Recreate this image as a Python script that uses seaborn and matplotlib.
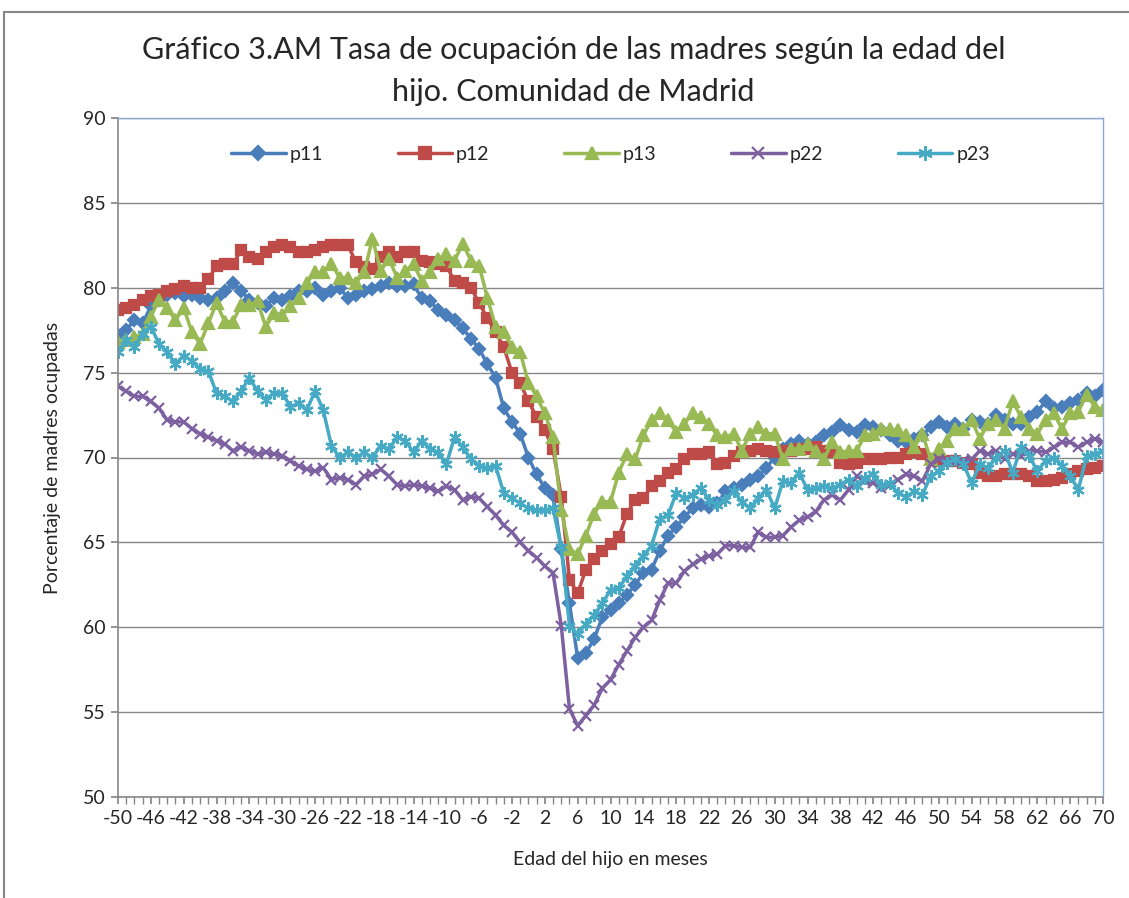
import matplotlib
matplotlib.use("Agg")
import matplotlib.pyplot as plt
from matplotlib.patches import Rectangle
import seaborn as sns

months = list(range(-50, 71))

p11 = [77.2, 77.5, 78.1, 77.9, 78.9, 79.3, 79.6, 79.7, 79.5, 79.6,
       79.4, 79.3, 79.4, 79.8, 80.3, 79.8, 79.3, 79.1, 78.9, 79.4,
       79.3, 79.5, 79.8, 79.8, 80.0, 79.6, 79.8, 80.0, 79.4, 79.6,
       79.8, 79.9, 80.1, 80.3, 80.1, 80.1, 80.2, 79.4, 79.2, 78.7,
       78.4, 78.1, 77.6, 77.0, 76.4, 75.5, 74.7, 72.9, 72.1, 71.4,
       70.0, 69.0, 68.2, 67.8, 64.6, 61.4, 58.2, 58.5, 59.3, 60.6,
       61.0, 61.4, 61.9, 62.5, 63.2, 63.4, 64.5, 65.4, 65.9, 66.5,
       67.0, 67.2, 67.1, 67.3, 68.0, 68.2, 68.4, 68.7, 68.9, 69.4,
       70.0, 70.5, 70.8, 71.0, 70.8, 70.9, 71.3, 71.5, 71.9, 71.6,
       71.5, 71.9, 71.8, 71.6, 71.3, 71.0, 70.9, 71.1, 71.3, 71.8,
       72.1, 71.8, 72.0, 71.7, 72.2, 72.1, 72.0, 72.5, 72.2, 72.0,
       72.0, 72.4, 72.7, 73.3, 72.9, 73.0, 73.2, 73.4, 73.8, 73.6,
       74.0]

p12 = [78.7, 78.8, 79.0, 79.3, 79.5, 79.6, 79.8, 79.9, 80.1, 80.0,
       80.0, 80.5, 81.3, 81.4, 81.4, 82.2, 81.8, 81.7, 82.1, 82.4,
       82.5, 82.4, 82.1, 82.1, 82.2, 82.4, 82.5, 82.5, 82.5, 81.5,
       81.2, 81.1, 81.8, 82.1, 81.8, 82.1, 82.1, 81.6, 81.5, 81.4,
       81.3, 80.4, 80.3, 80.0, 79.1, 78.2, 77.4, 76.5, 75.0, 74.4,
       73.3, 72.4, 71.6, 70.5, 67.7, 62.8, 62.0, 63.4, 64.0, 64.5,
       64.9, 65.3, 66.7, 67.5, 67.6, 68.3, 68.6, 69.1, 69.3, 69.9,
       70.2, 70.2, 70.3, 69.6, 69.7, 70.1, 70.3, 70.4, 70.5, 70.4,
       70.3, 70.4, 70.4, 70.5, 70.5, 70.6, 70.4, 70.3, 69.7, 69.6,
       69.7, 69.9, 69.9, 69.9, 70.0, 70.0, 70.2, 70.3, 70.2, 69.9,
       69.8, 69.8, 69.8, 69.7, 69.6, 69.1, 68.9, 68.9, 69.0, 69.0,
       69.0, 68.9, 68.6, 68.6, 68.7, 68.8, 69.0, 69.2, 69.3, 69.4,
       69.5]

p13 = [76.8, 76.9, 77.1, 77.3, 78.3, 79.3, 78.8, 78.1, 78.8, 77.4,
       76.7, 77.9, 79.1, 78.0, 78.0, 79.0, 79.0, 79.2, 77.7, 78.5,
       78.4, 78.9, 79.4, 80.3, 80.9, 80.9, 81.4, 80.6, 80.6, 80.3,
       80.9, 82.9, 81.0, 81.7, 80.6, 81.0, 81.4, 80.4, 80.9, 81.7,
       82.0, 81.6, 82.6, 81.6, 81.3, 79.4, 77.7, 77.4, 76.5, 76.2,
       74.4, 73.6, 72.6, 71.2, 66.9, 64.6, 64.3, 65.4, 66.7, 67.4,
       67.4, 69.1, 70.2, 69.9, 71.3, 72.2, 72.6, 72.2, 71.5, 72.0,
       72.6, 72.4, 72.0, 71.3, 71.2, 71.4, 70.4, 71.4, 71.8, 71.4,
       71.4, 69.9, 70.5, 70.5, 70.8, 70.4, 69.9, 70.9, 70.3, 70.4,
       70.4, 71.3, 71.4, 71.7, 71.7, 71.6, 71.3, 70.6, 71.4, 69.9,
       70.5, 71.0, 71.7, 71.7, 72.2, 71.1, 72.0, 72.2, 71.7, 73.3,
       72.4, 71.7, 71.4, 72.2, 72.6, 71.7, 72.6, 72.7, 73.7, 73.0,
       72.8]

p22 = [74.2, 73.9, 73.6, 73.6, 73.3, 72.9, 72.2, 72.1, 72.1, 71.7,
       71.4, 71.2, 71.0, 70.8, 70.4, 70.6, 70.4, 70.2, 70.3, 70.2,
       70.1, 69.8, 69.5, 69.3, 69.2, 69.4, 68.7, 68.8, 68.7, 68.4,
       68.9, 69.0, 69.3, 68.9, 68.4, 68.3, 68.4, 68.3, 68.2, 68.0,
       68.3, 68.1, 67.5, 67.7, 67.6, 67.1, 66.6, 66.0, 65.6, 65.0,
       64.5, 64.1, 63.6, 63.2, 60.1, 55.2, 54.2, 54.8, 55.4, 56.4,
       56.9, 57.8, 58.6, 59.4, 60.0, 60.4, 61.6, 62.6, 62.6, 63.3,
       63.7, 64.0, 64.2, 64.3, 64.8, 64.8, 64.7, 64.7, 65.6, 65.3,
       65.3, 65.4, 65.9, 66.3, 66.5, 66.8, 67.5, 67.8, 67.5, 68.1,
       68.9, 68.6, 68.5, 68.2, 68.4, 68.7, 69.0, 68.9, 68.6, 69.6,
       69.9, 69.8, 69.8, 69.8, 69.9, 70.4, 70.2, 70.4, 69.9, 70.2,
       70.1, 70.4, 70.4, 70.3, 70.6, 70.9, 70.9, 70.6, 70.9, 71.1,
       70.9]

p23 = [76.2, 76.9, 76.5, 77.3, 77.7, 76.7, 76.2, 75.5, 76.0, 75.7,
       75.2, 75.1, 73.8, 73.6, 73.3, 73.9, 74.7, 73.9, 73.4, 73.8,
       73.8, 73.0, 73.2, 72.8, 73.9, 72.8, 70.7, 70.0, 70.3, 70.0,
       70.3, 70.0, 70.7, 70.5, 71.2, 71.0, 70.3, 71.0, 70.5, 70.3,
       69.6, 71.2, 70.6, 69.9, 69.5, 69.4, 69.5, 67.9, 67.6, 67.3,
       67.0, 66.9, 66.9, 67.0, 64.7, 60.1, 59.6, 60.2, 60.7, 61.4,
       62.2, 62.3, 63.0, 63.6, 64.2, 64.8, 66.4, 66.6, 67.9, 67.6,
       67.8, 68.2, 67.5, 67.2, 67.5, 68.0, 67.4, 67.0, 67.6, 68.1,
       67.0, 68.6, 68.5, 69.1, 68.1, 68.2, 68.3, 68.2, 68.4, 68.7,
       68.3, 68.8, 69.0, 68.4, 68.5, 67.9, 67.7, 68.0, 67.8, 68.9,
       69.2, 69.7, 69.9, 69.6, 68.5, 69.6, 69.4, 70.0, 70.4, 69.1,
       70.6, 70.1, 69.2, 69.8, 70.0, 69.5, 68.9, 68.1, 70.1, 70.2,
       70.4]

names = ["p11", "p12", "p13", "p22", "p23"]
colors = ["#4A7EBB", "#BE4B48", "#98B954", "#7D60A0", "#46AAC5"]
markers = ["D", "s", "^", "x", (6, 2, 0)]
msizes = [6.5, 7, 8, 7, 9]

sns.set_theme(style="white")
plt.rcParams['font.family'] = ['Lato', 'DejaVu Sans']

fig = plt.figure(figsize=(11.29, 8.98), dpi=100)
ax = fig.add_axes([118 / 1129, 1 - 797 / 898, 985 / 1129, 679 / 898])

for name, vals, col, mk, ms in zip(names, [p11, p12, p13, p22, p23], colors, markers, msizes):
    sns.lineplot(x=months, y=vals, ax=ax, color=col, marker=mk, markersize=ms,
                 markeredgecolor=col, markerfacecolor=col, markeredgewidth=1.6,
                 linewidth=2.5, label=name)

ax.set_xlim(-50, 70)
ax.set_ylim(50, 90)
ax.set_yticks(range(50, 91, 5))
ax.set_xticks(months[::4])
ax.set_xticklabels([str(m) for m in months[::4]])
ax.set_xticks(months, minor=True)
ax.grid(axis="y", color="#868686", linewidth=1)
ax.grid(axis="x", visible=False)
ax.tick_params(axis="both", which="both", direction="out", length=5, color="#868686",
               labelsize=14, pad=4, bottom=True, left=True)
for side in ["left", "bottom"]:
    ax.spines[side].set_color("#868686")
    ax.spines[side].set_linewidth(1.2)
for side in ["top", "right"]:
    ax.spines[side].set_color("#8EA9D3")
    ax.spines[side].set_linewidth(1)

ax.set_xlabel("Edad del hijo en meses", fontsize=14, labelpad=18)
ax.set_ylabel("Porcentaje de madres ocupadas", fontsize=14, labelpad=16)

ax.legend(loc="upper center", bbox_to_anchor=(0.5, 0.985), ncol=5, frameon=False,
          fontsize=14, handlelength=2.8, columnspacing=3.85, handletextpad=0.2,
          markerscale=1.15)

fig.text(0.508, 0.944, "Gráfico 3.AM Tasa de ocupación de las madres según la edad del",
         ha="center", va="center", fontsize=22)
fig.text(0.508, 0.897, "hijo. Comunidad de Madrid", ha="center", va="center", fontsize=22)

fig.patches.append(Rectangle((4 / 1129, -0.2), 1.2, 1.2 - 12 / 898, transform=fig.transFigure,
                             fill=False, edgecolor="#868686", linewidth=1.5))

fig.savefig("out.png", dpi=100)
